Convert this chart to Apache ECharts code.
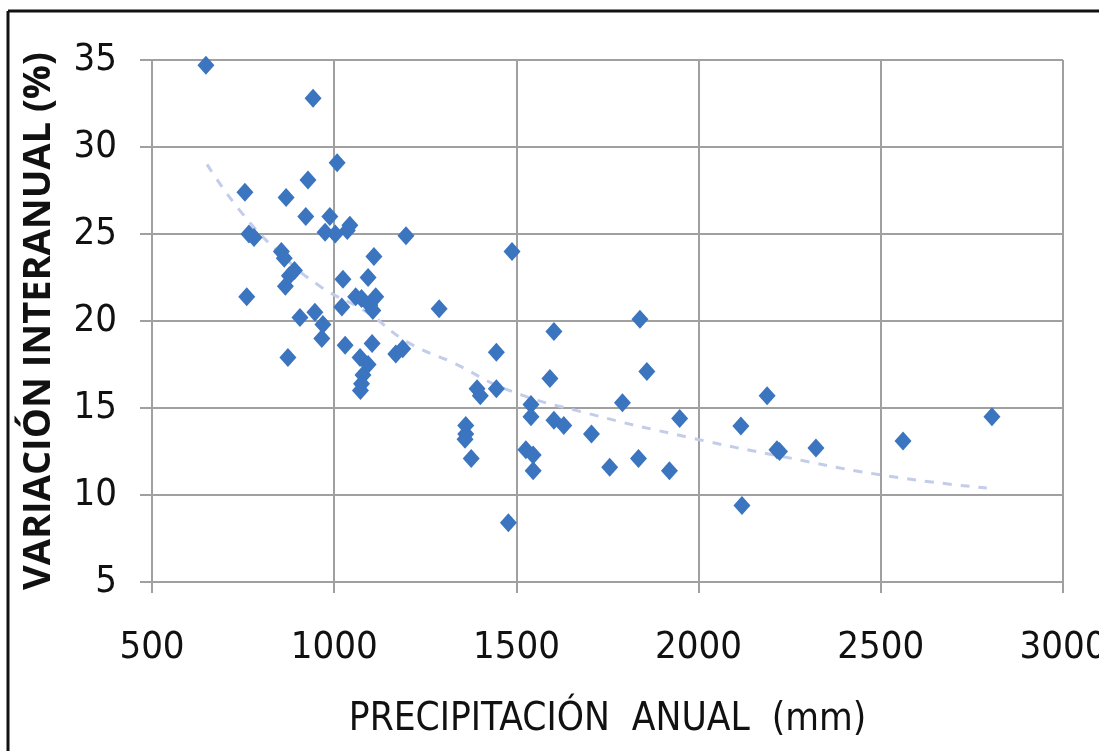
<!DOCTYPE html>
<html>
<head>
<meta charset="utf-8">
<style>
  html, body { margin: 0; padding: 0; background: #fff; }
  #chart { width: 1099px; height: 751px; }
</style>
<script src="https://cdn.jsdelivr.net/npm/echarts@6/dist/echarts.min.js"></script>
</head>
<body>
<div id="chart"></div>
<script>
// precipitación anual (mm) de cada estación
const precip = [648, 942, 1008, 755, 868, 928, 922, 988, 1043, 975, 1003, 766, 780, 1197, 1036, 855, 863, 1109, 1488, 760,
  1024, 1093, 866, 877, 891, 906, 947, 969, 966, 873, 1021, 1059, 1075, 1098, 1114, 1106, 1030, 1104, 1071, 1093,
  1079, 1075, 1072, 1169, 1188, 1288, 1445, 1603, 1839, 1592, 1858, 1392, 1401, 1445, 1540, 1540, 1603, 1630, 1791, 1948,
  1706, 1756, 1835, 1920, 1361, 1361, 1359, 1376, 1526, 1546, 1546, 1478, 2116, 2188, 2215, 2222, 2322, 2561, 2805, 2119];
// variación interanual (%)
const variacion = [34.7, 32.8, 29.1, 27.4, 27.1, 28.1, 26.0, 26.0, 25.5, 25.1, 25.0, 25.0, 24.8, 24.9, 25.2, 24.0, 23.6, 23.7, 24.0, 21.4,
  22.4, 22.5, 22.0, 22.6, 22.9, 20.2, 20.5, 19.8, 19.0, 17.9, 20.8, 21.4, 21.3, 20.9, 21.4, 20.6, 18.6, 18.7, 17.9, 17.5,
  16.9, 16.4, 16.0, 18.1, 18.4, 20.7, 18.2, 19.4, 20.1, 16.7, 17.1, 16.1, 15.7, 16.1, 15.2, 14.5, 14.3, 14.0, 15.3, 14.4,
  13.5, 11.6, 12.1, 11.4, 14.0, 13.5, 13.2, 12.1, 12.6, 12.3, 11.4, 8.4, 13.97, 15.7, 12.6, 12.5, 12.7, 13.1, 14.5, 9.4];
// línea de tendencia
const trendX = [651, 747, 851, 961, 1090, 1200, 1326, 1482, 1694, 1976, 2232, 2517, 2791];
const trendY = [29.0, 26.2, 23.9, 22.0, 20.5, 18.8, 17.6, 16.0, 14.7, 13.3, 12.2, 11.1, 10.4];

const font = "'Liberation Sans Narrow', 'DejaVu Sans Condensed', 'Open Sans', sans-serif";
const gridColor = "#a0a0a0";

const chart = echarts.init(document.getElementById("chart"));
chart.setOption({
  animation: false,
  backgroundColor: "#fff",
  grid: { left: 152, right: 36, top: 60, bottom: 169, outerBoundsMode: "none", containLabel: false },
  xAxis: {
    type: "value",
    min: 500,
    max: 3000,
    interval: 500,
    name: "PRECIPITACIÓN  ANUAL  (mm)",
    nameLocation: "middle",
    nameGap: 118,
    nameTextStyle: { fontFamily: font, fontSize: 38.5, color: "#111" },
    axisLine: { show: true, lineStyle: { color: gridColor, width: 2 } },
    axisTick: { show: true, length: 11, inside: false, lineStyle: { color: gridColor, width: 2 } },
    axisLabel: { margin: 47, fontFamily: font, fontSize: 38, color: "#111", formatter: v => String(v) },
    splitLine: { show: true, lineStyle: { color: gridColor, width: 2 } }
  },
  yAxis: {
    type: "value",
    min: 5,
    max: 35,
    interval: 5,
    name: "VARIACIÓN INTERANUAL (%)",
    nameLocation: "middle",
    nameGap: 94,
    nameTextStyle: { fontFamily: "'Open Sans', sans-serif", fontWeight: "bold", fontSize: 38, color: "#111" },
    axisLine: { show: true, lineStyle: { color: gridColor, width: 2 } },
    axisTick: { show: true, length: 12, inside: false, lineStyle: { color: gridColor, width: 2 } },
    axisLabel: { margin: 35, fontFamily: font, fontSize: 38, color: "#111" },
    splitLine: { show: true, lineStyle: { color: gridColor, width: 2 } }
  },
  series: [
    {
      name: "tendencia",
      type: "line",
      data: trendX.map((x, i) => [x, trendY[i]]),
      smooth: true,
      showSymbol: false,
      z: 1,
      lineStyle: { color: "#c3cdea", width: 3, type: [9, 9] }
    },
    {
      name: "estaciones",
      type: "scatter",
      data: precip.map((x, i) => [x, variacion[i]]),
      symbol: "diamond",
      symbolSize: [17, 19],
      z: 2,
      itemStyle: { color: "#3b74bf", opacity: 1 }
    }
  ],
  graphic: [
    { type: "line", shape: { x1: 8, y1: 11, x2: 8, y2: 751 }, style: { stroke: "#111", lineWidth: 3 } },
    { type: "line", shape: { x1: 8, y1: 11, x2: 1099, y2: 11 }, style: { stroke: "#111", lineWidth: 3 } }
  ]
});
</script>
</body>
</html>
